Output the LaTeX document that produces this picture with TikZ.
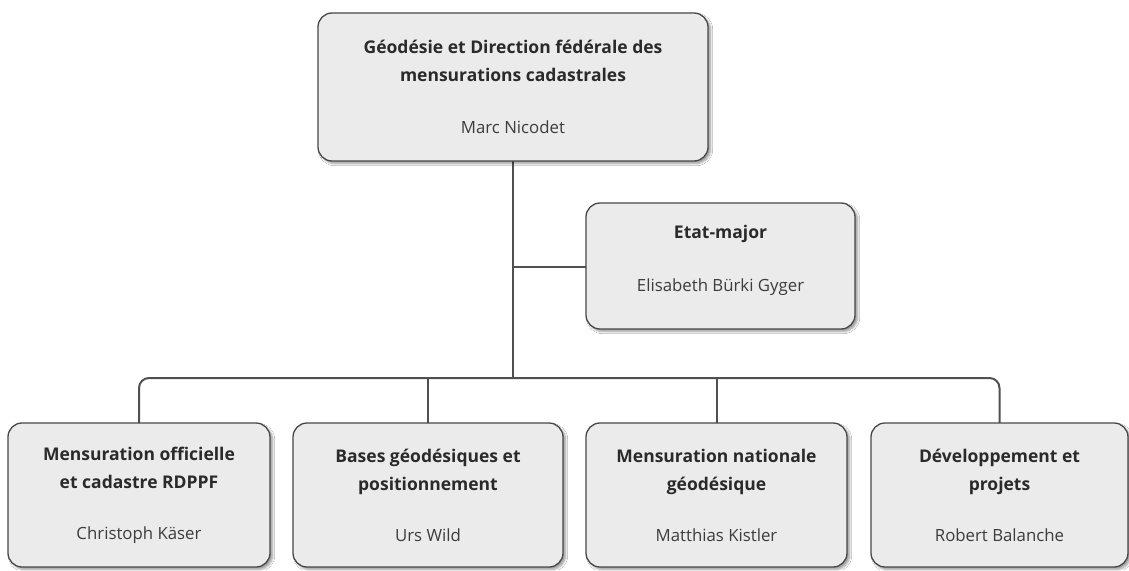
\documentclass[tikz,border=0pt]{standalone}
\usepackage{fontspec}
\setmainfont{Open Sans}
\usetikzlibrary{shadows.blur}
\definecolor{boxfill}{HTML}{EBEBEB}
\definecolor{boxline}{HTML}{484848}
\definecolor{conn}{HTML}{505050}
\definecolor{txt}{HTML}{2A2A2A}
\definecolor{nametxt}{HTML}{3C3C3C}
\tikzset{
  orgbox/.style={draw=boxline, line width=1.3pt, fill=boxfill, rounded corners=14pt,
    blur shadow={shadow xshift=2.5pt, shadow yshift=-2.5pt, shadow blur steps=6, shadow opacity=40},
    align=center, text=txt, inner sep=0pt,
    font=\fontsize{17.5}{28}\selectfont},
  connector/.style={draw=conn, line width=2pt},
}
\newcommand{\nm}[1]{{\color{nametxt}\fontsize{16.8}{28}\selectfont #1}}
\begin{document}
\begin{tikzpicture}[x=1pt,y=-1pt]
\useasboundingbox (0,0) rectangle (1129,570);
\fill[white] (0,0) rectangle (1129,570);
% coordinates for connectors
\coordinate (tr) at (513,378);
\coordinate (em) at (513,267);
% connectors (behind boxes)
\draw[connector] (513,161) -- (tr);
\draw[connector] (em) -- (586,267);
\draw[connector, rounded corners=10pt] (139,423) |- (tr) -| (999.5,423);
\draw[connector] (428,378) -- (428,423);
\draw[connector] (717,378) -- (717,423);
% boxes
\node[orgbox, minimum width=390pt, minimum height=148pt] (top) at (513,87)
  {\textbf{Géodésie et Direction fédérale des}\\\textbf{mensurations cadastrales}\\[24pt]\nm{Marc Nicodet}};
\node[orgbox, minimum width=269pt, minimum height=126pt] (etat) at (720.5,266)
  {\textbf{Etat-major}\\[25pt]\nm{Elisabeth Bürki Gyger}\\[-13pt]\mbox{}};
\node[orgbox, minimum width=262pt, minimum height=144pt] (b1) at (139,495)
  {\textbf{Mensuration officielle}\\\textbf{et cadastre RDPPF}\\[23pt]\nm{Christoph Käser}};
\node[orgbox, minimum width=270pt, minimum height=144pt] (b2) at (428,495)
  {\textbf{Bases géodésiques et}\\\textbf{positionnement}\\[23pt]\nm{Urs Wild}};
\node[orgbox, minimum width=261pt, minimum height=144pt] (b3) at (716.5,495)
  {\textbf{Mensuration nationale}\\\textbf{géodésique}\\[23pt]\nm{Matthias Kistler}};
\node[orgbox, minimum width=257pt, minimum height=144pt] (b4) at (999.5,495)
  {\textbf{Développement et}\\\textbf{projets}\\[23pt]\nm{Robert Balanche}};
\end{tikzpicture}
\end{document}
